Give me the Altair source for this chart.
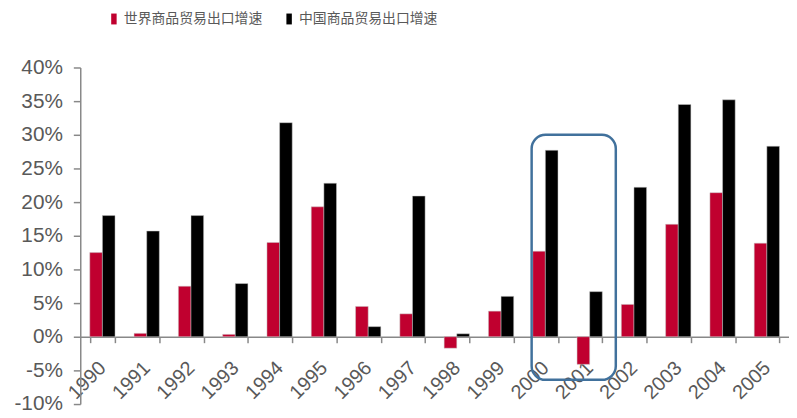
import altair as alt
import pandas as pd

years = ["1990", "1991", "1992", "1993", "1994", "1995", "1996", "1997",
         "1998", "1999", "2000", "2001", "2002", "2003", "2004", "2005"]
world = [12.5, 0.5, 7.5, 0.35, 14.0, 19.3, 4.5, 3.4, -1.7, 3.8, 12.7, -4.1, 4.8, 16.7, 21.4, 13.9]
china = [18.0, 15.7, 18.0, 7.9, 31.8, 22.8, 1.5, 20.9, 0.44, 6.0, 27.7, 6.7, 22.2, 34.5, 35.2, 28.3]
series = ["世界商品贸易出口增速", "中国商品贸易出口增速"]
colors = ["#C0002F", "#000000"]
y_ticks = [-10, -5, 0, 5, 10, 15, 20, 25, 30, 35, 40]

# annotation box (x in category steps from left edge, y in %)
box_x = [10.19, 12.09]
box_y = [30.0, -6.4]

rows = []
for i, yr in enumerate(years):
    rows.append({"year": yr, "series": series[0], "value": world[i]})
    rows.append({"year": yr, "series": series[1], "value": china[i]})
df = pd.DataFrame(rows)
box_df = pd.DataFrame({"x0": [box_x[0]], "x1": [box_x[1]], "y0": [box_y[0]], "y1": [box_y[1]]})

W, H = 716, 340
yscale = alt.Scale(domain=[-10, 40], nice=False, zero=False)
yaxis = alt.Axis(title=None, values=y_ticks, labelExpr="datum.value + '%'",
                 labelFontSize=21, labelColor="#595959", labelFont="Liberation Sans",
                 tickSize=7, tickColor="#888888", tickWidth=1.5,
                 domainColor="#888888", domainWidth=1.5, labelPadding=11,
                 grid=False, labelOverlap=False)

bars = alt.Chart(df).mark_bar(stroke="#c8c8c8", strokeWidth=0.5).encode(
    x=alt.X("year:N", sort=years,
            scale=alt.Scale(paddingInner=0.43, paddingOuter=0.215),
            axis=alt.Axis(title=None, labelAngle=-45, labelAlign="right", labelBaseline="middle",
                          labelFontSize=20, labelColor="#595959", labelFont="Liberation Sans",
                          tickBand="extent", tickSize=6, tickColor="#888888", tickWidth=1.5,
                          domainColor="#888888", domainWidth=1.5, offset=-68, labelPadding=22,
                          labelOverlap=False, labelBound=False)),
    xOffset=alt.XOffset("series:N", sort=series, scale=alt.Scale(paddingInner=0, paddingOuter=0)),
    y=alt.Y("value:Q", scale=yscale, axis=yaxis),
    color=alt.Color("series:N", sort=series,
                    scale=alt.Scale(domain=series, range=colors),
                    legend=alt.Legend(title=None, orient="none", legendX=27, legendY=-56,
                                      direction="horizontal", columns=2,
                                      symbolType="M-0.5,-1H0.5V1H-0.5Z", symbolSize=121,
                                      symbolStrokeWidth=0, labelFontSize=14,
                                      labelFont="Noto Sans CJK SC", labelColor="#595959",
                                      labelOffset=3, columnPadding=20, padding=0)),
)

box = alt.Chart(box_df).mark_rect(cornerRadius=14, fill="white", fillOpacity=0,
                                   stroke="#41719C", strokeWidth=2.5).encode(
    x=alt.X("x0:Q", scale=alt.Scale(domain=[0, 16], nice=False, zero=False), axis=None),
    x2="x1:Q",
    y=alt.Y("y0:Q", scale=yscale, axis=yaxis),
    y2="y1:Q",
)

chart = alt.layer(bars, box).resolve_scale(x="independent").properties(
    width=W, height=H,
    autosize=alt.AutoSizeParams(type="none"),
    padding={"left": 73, "top": 58, "right": 0, "bottom": 12},
).configure_view(stroke=None)

chart.save("out.html", embed_options={"renderer": "svg", "actions": False})
